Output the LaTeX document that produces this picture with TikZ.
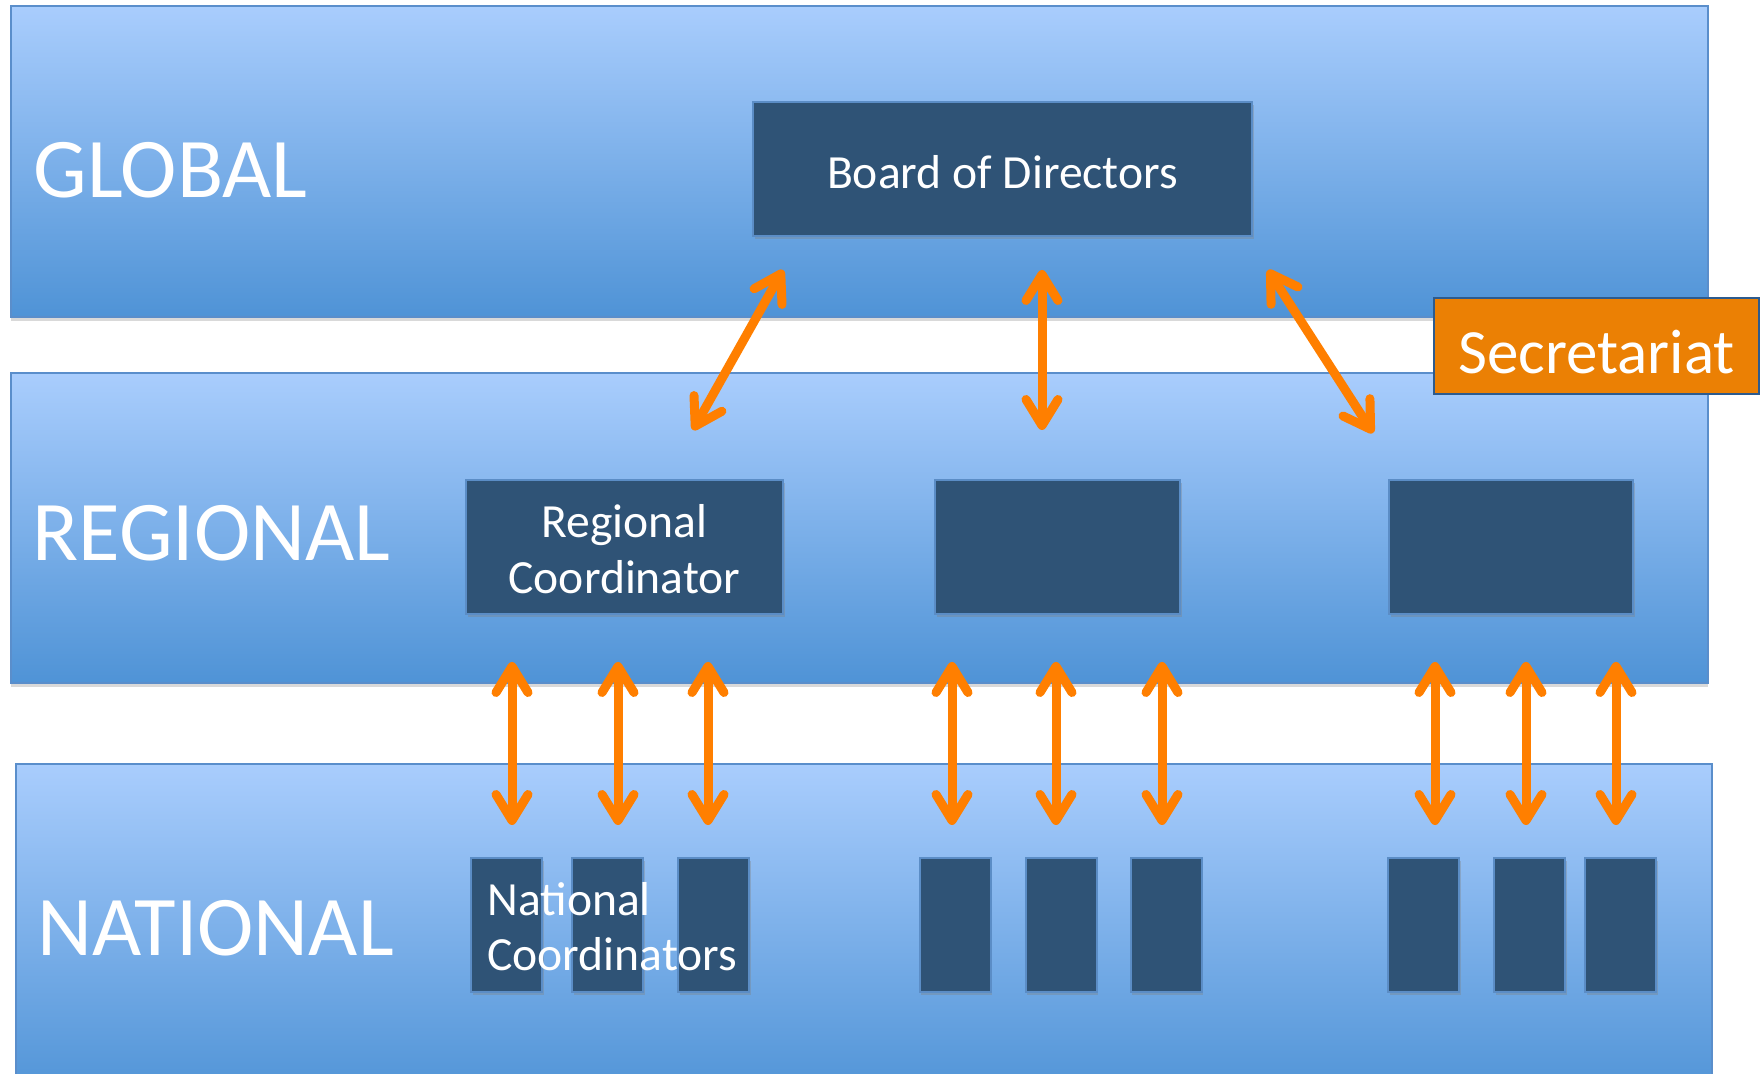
\documentclass[tikz,border=0pt]{standalone}
\usepackage{fontspec}
\setmainfont{Carlito}
\usetikzlibrary{arrows.meta,shadows}
\definecolor{bandtop}{HTML}{A9CDFD}
\definecolor{bandbot}{HTML}{4F93D6}
\definecolor{bandline}{HTML}{5A8ECB}
\definecolor{boxfill}{HTML}{2F5376}
\definecolor{boxline}{HTML}{5B8DC6}
\definecolor{arrowc}{HTML}{FF7F00}
\definecolor{secfill}{HTML}{EB8004}
\definecolor{secline}{HTML}{2D5B8E}
\newcommand{\lowerby}[2]{\raisebox{-#1}[\height][\depth]{#2}}
\begin{document}
\begin{tikzpicture}[x=0.5pt,y=-0.5pt,
  >={Straight Barb[length=13pt,width=16pt,round]},
  band/.style={rectangle, draw=bandline, line width=0.75pt, top color=bandtop, bottom color=bandbot,
    drop shadow={shadow xshift=0pt, shadow yshift=-2pt, opacity=0.3}, inner sep=0pt},
  dbox/.style={rectangle, draw=boxline, line width=1pt, fill=boxfill, inner sep=0pt,
    drop shadow={shadow xshift=0.8pt, shadow yshift=-1.5pt, opacity=0.35},
    text=white, font=\fontsize{23.8}{28}\selectfont, align=center},
  natbox/.style={dbox, minimum width=35.5pt, minimum height=67pt},
  lvl/.style={text=white, font=\fontsize{42.5}{50}\selectfont, inner sep=0pt, anchor=base west},
  link/.style={draw=arrowc, line width=4.5pt, line cap=round, <->},
  secbox/.style={rectangle, draw=secline, line width=0.9pt, fill=secfill, inner sep=0pt,
    text=white, font=\fontsize{31.5}{36}\selectfont}
]
\useasboundingbox (0,0) rectangle (1762,1074);
\clip (0,0) rectangle (1762,1074);

% bands
\node[band, minimum width=848.5pt, minimum height=155.5pt] (gband) at (859.5,161.5) {};
\node[band, minimum width=848.5pt, minimum height=155pt] (rband) at (859.5,528) {};
\node[band, minimum width=848pt, minimum height=168pt] (nband) at (864,932) {};

% level labels
\node[lvl] (glabel) at (33,198) {GLOBAL};
\node[lvl] (rlabel) at (32,561) {REGIONAL};
\node[lvl] (nlabel) at (37,955) {NATIONAL};

% board and regional boxes
\node[dbox, minimum width=249.5pt, minimum height=67pt] (board) at (1002.5,169) {\lowerby{1.5pt}{Board of Directors}};
\node[dbox, minimum width=158.5pt, minimum height=67pt] (reg1) at (624.5,547) {\lowerby{3.8pt}{\begin{tabular}{@{}c@{}}Regional\\Coordinator\end{tabular}}};
\node[dbox, minimum width=122.5pt, minimum height=67pt] (reg2) at (1057.5,547) {};
\node[dbox, minimum width=122pt, minimum height=67pt] (reg3) at (1511,547) {};

% national boxes
\node[natbox] (n1) at (506.5,925) {};
\node[natbox] (n2) at (607.5,925) {};
\node[natbox] (n3) at (713.5,925) {};
\node[natbox] (n4) at (955,925) {};
\node[natbox] (n5) at (1061,925) {};
\node[natbox] (n6) at (1166,925) {};
\node[natbox] (n7) at (1423.5,925) {};
\node[natbox] (n8) at (1529.5,925) {};
\node[natbox] (n9) at (1620.5,925) {};

\node[text=white, font=\fontsize{23.8}{27.5}\selectfont, align=left, anchor=base west, inner sep=0pt]
  (natlabel) at (487,970) {National\\Coordinators};

% secretariat
\node[secbox, minimum width=162.5pt, minimum height=48pt] (sec) at (1596.5,346) {\lowerby{3pt}{Secretariat}};

% arrow end points
\coordinate (a1t) at (783,270);  \coordinate (a1b) at (693,430);
\coordinate (a2t) at (1042,270); \coordinate (a2b) at (1042,430);
\coordinate (a3t) at (1268,270); \coordinate (a3b) at (1373,433);
\foreach \i/\x in {1/512,2/618,3/708,4/952,5/1056,6/1162,7/1435,8/1526,9/1616}{
  \coordinate (v\i t) at (\x,662);
  \coordinate (v\i b) at (\x,825);
}

% arrows
\draw[link] (a1t) -- (a1b);
\draw[link] (a2t) -- (a2b);
\draw[link] (a3t) -- (a3b);
\foreach \i in {1,...,9}{
  \draw[link] (v\i t) -- (v\i b);
}
\end{tikzpicture}
\end{document}
